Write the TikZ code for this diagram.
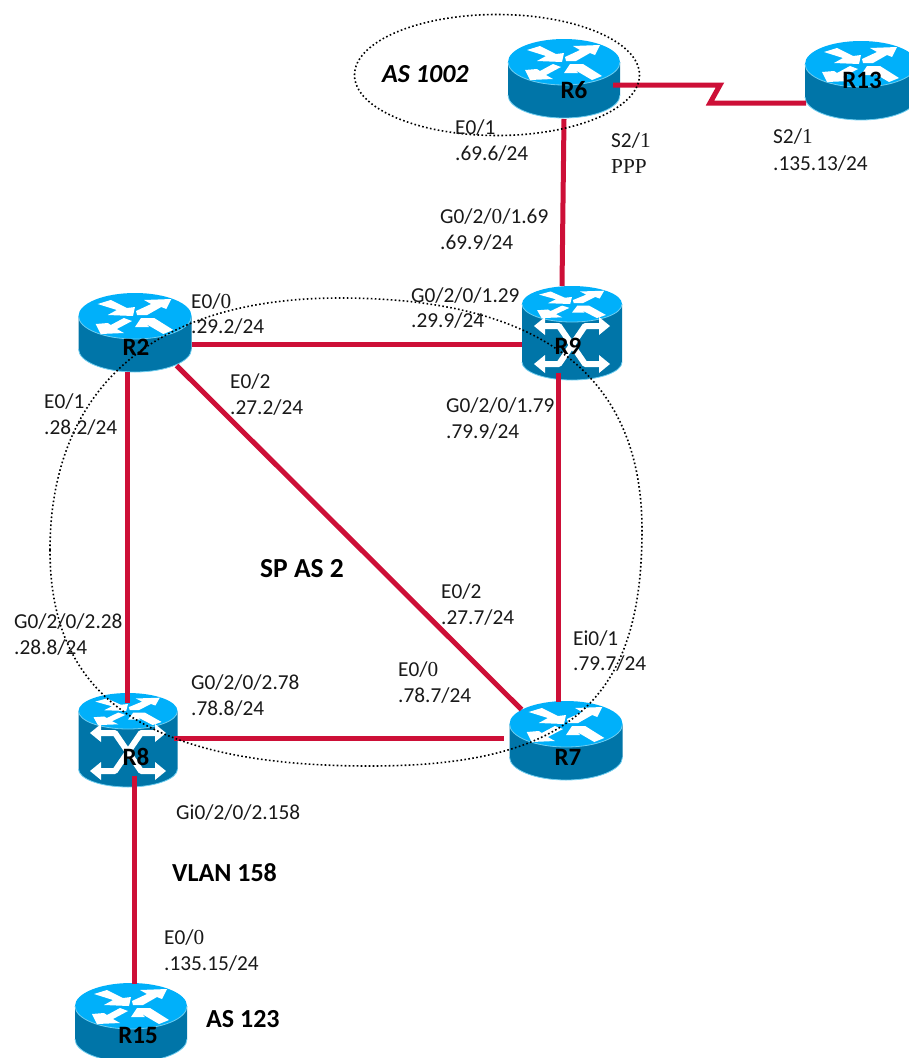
\documentclass[tikz,border=0pt]{standalone}
\usepackage{fontspec}
\setmainfont{Carlito}
\newfontfamily\serifcut{Liberation Serif}
\usetikzlibrary{calc}
\definecolor{rtop}{RGB}{0,176,250}
\definecolor{rbody}{RGB}{0,117,168}
\definecolor{redge}{RGB}{110,205,240}
\definecolor{wire}{RGB}{205,15,55}
\newcommand{\sr}[1]{{\serifcut #1}}
\newcommand{\routerart}[5]{%
  \begin{scope}[shift={(#1,#2)}]
    \fill[rbody] (-#3,0) -- (-#3,#5) arc[start angle=180,end angle=0,x radius=#3,y radius=#4] -- (#3,0) -- cycle;
    \draw[redge,line width=.8pt] (-#3,#5) arc[start angle=180,end angle=0,x radius=#3,y radius=#4];
    \fill[rtop] (0,0) ellipse[x radius=#3,y radius=#4];
    \draw[redge,line width=.8pt] (-#3,0) arc[start angle=180,end angle=0,x radius=#3,y radius=#4];
    \begin{scope}[xscale=#3/56,yscale=#4/23]
      \fill[white] (-37,-12) -- (-24,-16) -- (-8,-8) -- (0,-9) -- (-2,0) -- (-27,-1) -- (-18,-6) -- cycle;
      \fill[white] (2,-1) -- (12,-1) -- (26,-9) -- (31,-7) -- (36,-17) -- (9,-16) -- (16,-12) -- (1,-5) -- cycle;
      \fill[white] (-39,8) -- (-34,18) -- (-11,17) -- (-18,13) -- (-3,5) -- (-11,2) -- (-24,9) -- (-27,7) -- cycle;
      \fill[white] (0,11) -- (6,2) -- (19,2) -- (38,14) -- (28,18) -- (11,8) -- (14,11) -- cycle;
    \end{scope}
  \end{scope}}
\newcommand{\switchart}[2]{%
  \begin{scope}[shift={(#1,#2)}]
    \draw[white,line width=6pt,line join=round] (-29,-19) -- (-13,-19) -- (13,19) -- (29,19);
    \draw[white,line width=6pt,line join=round] (-29,19) -- (-13,19) -- (13,-19) -- (29,-19);
    \foreach \sx in {-1,1}\foreach \sy in {-1,1}
      \fill[white] (\sx*38,\sy*19) -- (\sx*27,\sy*19-9) -- (\sx*27,\sy*19+9) -- cycle;
  \end{scope}}
\tikzset{
  rbox/.style={minimum width=#1,inner sep=0pt,outer sep=0pt,rectangle},
  rname/.style={font=\bfseries\fontsize{25}{27}\selectfont,inner sep=0pt},
  lab/.style={anchor=west,inner sep=0pt,yshift=-2pt,font=\fontsize{21.3}{23}\selectfont,text=black!90},
  heading/.style={anchor=west,inner sep=0pt,font=\bfseries\fontsize{26}{28}\selectfont},
  wirel/.style={draw=wire,line width=5pt},
  dots/.style={line width=1.6pt,dash pattern=on 1.6pt off 2.4pt,line cap=butt}
}
\begin{document}
\begin{tikzpicture}[x=1pt,y=-1pt]
\useasboundingbox (0,0) rectangle (909,1058);
\clip (0,0) rectangle (909,1058);
% bounding nodes
\node[rbox=112pt,minimum height=80pt] (R6) at (564,78) {};
\node[rbox=112pt,minimum height=80pt] (R13) at (861,81) {};
\node[rbox=113pt,minimum height=79pt] (R2) at (135,332) {};
\node[rbox=100pt,minimum height=94pt] (R9) at (572,333) {};
\node[rbox=99pt,minimum height=94pt] (R8) at (128,740) {};
\node[rbox=113pt,minimum height=79pt] (R7) at (566,740) {};
\node[rbox=112pt,minimum height=76pt] (R15) at (131,1021) {};
% icons
\routerart{564}{62}{56}{23}{33}
\routerart{861}{64}{56}{23}{33}
\routerart{135}{316}{56.5}{23}{33}
\routerart{572}{304}{50}{18}{58}
\switchart{572}{345}
\routerart{128}{711}{49.5}{18}{58}
\switchart{128}{752}
\routerart{566}{724}{56.5}{23}{33}
\routerart{131}{1006}{56}{23}{33}
% connectors
\draw[wirel] ($(R6.east)+(-7,7)$) -- (720,85) -- (710,103) -- ($(R13.west)+(1,22)$);
\draw[wirel] ($(R6.south)+(0,1)$) -- ($(R9.north)+(-10,0)$);
\draw[wirel] ($(R2.east)+(0,12)$) -- ($(R9.west)+(0,11)$);
\draw[wirel] ($(R2.south east)+(-15,-6)$) -- ($(R7.north west)+(12,9)$);
\draw[wirel] ($(R2.south)+(-8,0)$) -- ($(R8.north)+(-1,10)$);
\draw[wirel] ($(R9.south)+(-14,-7)$) -- ($(R7.north)+(-8,1)$);
\draw[wirel] ($(R8.east)+(-4,-2)$) -- ($(R7.west)+(-6,-2)$);
\draw[wirel] ($(R8.south)+(6,-11)$) -- ($(R15.north)+(3,1)$);
% dotted regions
\draw[dots] (497,75) ellipse[x radius=142.5,y radius=60.5];
\draw[dots] (50,550) .. controls (50,420) and (120,298) .. (340,298)
  .. controls (520,298) and (642,360) .. (642,530)
  .. controls (642,700) and (570,766) .. (370,766)
  .. controls (150,766) and (50,700) .. (50,550) -- cycle;
% router names
\node[rname] (nR6) at (574,90) {R6};
\node[rname] (nR13) at (862,80) {R13};
\node[rname] (nR2) at (136,347) {R2};
\node[rname] (nR9) at (568,346) {R9};
\node[rname] (nR8) at (136,757) {R8};
\node[rname] (nR7) at (568,757) {R7};
\node[rname] (nR15) at (138,1035) {R15};
% labels
\node[lab] (a1) at (455,126) {E0/1};
\node[lab] (a2) at (455,152) {.69.6/24};
\node[lab] (a3) at (611,139) {S2/\sr{1}};
\node[lab] (a4) at (611,165) {\sr{PPP}};
\node[lab] (a5) at (773,135) {S2/\sr{1}};
\node[lab] (a6) at (773,162) {.135.13/24};
\node[lab] (a7) at (440,215) {G0/2/\sr{0}/1.69};
\node[lab] (a8) at (440,241) {.69.9/24};
\node[lab] (a9) at (191,300) {E0/\sr{0}};
\node[lab] (a10) at (191,325) {.29.2/24};
\node[lab] (a11) at (411,294) {G0/2/0/1.29};
\node[lab] (a12) at (411,319) {.29.9/24};
\node[lab] (a13) at (230,380) {E0/2};
\node[lab] (a14) at (230,406) {.27.2/24};
\node[lab] (a15) at (446,404) {G0/2/0/1.79};
\node[lab] (a16) at (446,430) {.79.9/24};
\node[lab] (a17) at (44,400) {E0/1};
\node[lab] (a18) at (44,426) {.28.2/24};
\node[lab] (a19) at (441,590) {E0/2};
\node[lab] (a20) at (441,616) {.27.7/24};
\node[lab] (a21) at (14,620) {G0/2/0/2.28};
\node[lab] (a22) at (14,646) {.28.8/24};
\node[lab] (a23) at (573,637) {Ei0/1};
\node[lab] (a24) at (573,662) {.79.7/24};
\node[lab] (a25) at (191,681) {G0/2/0/2.78};
\node[lab] (a26) at (191,707) {.78.8/24};
\node[lab] (a27) at (398,668) {E0/\sr{0}};
\node[lab] (a28) at (398,694) {.78.7/24};
\node[lab] (a29) at (176,811) {Gi0/2/0/2.158};
\node[lab] (a30) at (164,936) {E0/\sr{0}};
\node[lab] (a31) at (164,962) {.135.15/24};
\node[heading,font=\bfseries\fontsize{27.5}{29}\selectfont] (h1) at (260,569) {SP AS 2};
\node[heading] (h2) at (172,873) {VLAN 158};
\node[heading] (h3) at (206,1019) {AS 123};
\node[heading,font=\bfseries\itshape\fontsize{26}{28}\selectfont] (h4) at (382,74) {AS 1002};
\end{tikzpicture}
\end{document}
